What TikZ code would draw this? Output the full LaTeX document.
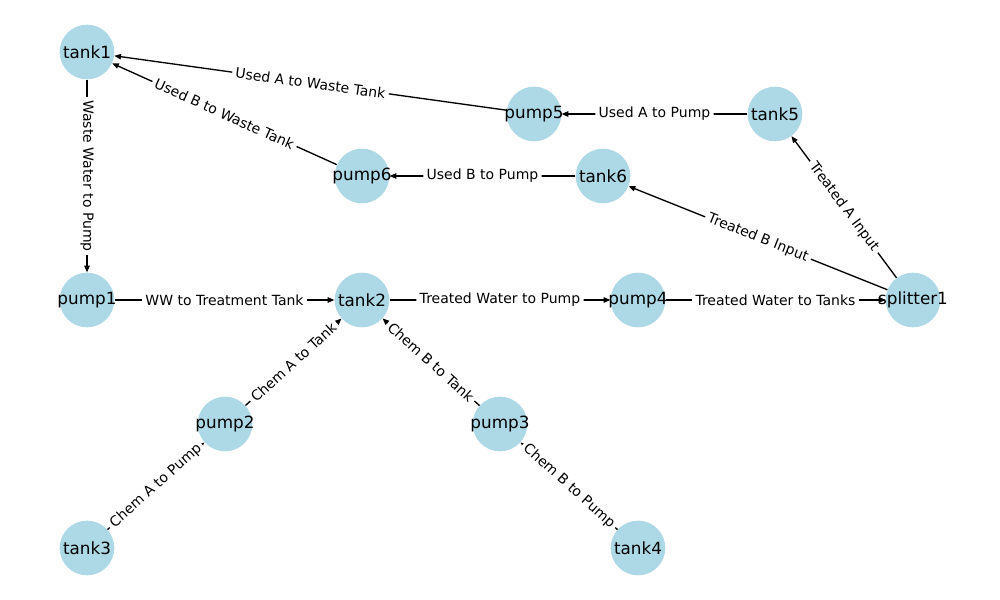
\documentclass[tikz,border=0pt]{standalone}
\usepackage{fontspec}
\setmainfont{DejaVu Sans}
\usetikzlibrary{arrows.meta}
\definecolor{lightblue}{HTML}{ADD8E6}
\begin{document}
\begin{tikzpicture}[x=0.75pt,y=-0.75pt,
  nd/.style={circle,fill=lightblue,minimum size=41pt,inner sep=0pt,
    label={[font=\fontsize{12.6}{14}\selectfont,inner sep=0pt]center:#1}},
  ed/.style={-{Triangle[length=5pt,width=4pt]},line width=1pt,black},
  lb/.style={midway,sloped,fill=white,font=\fontsize{10.5}{12}\selectfont,inner sep=2.5pt,rounded corners=3pt}]
\useasboundingbox (0,0) rectangle (1000,600);
\node[nd=tank1] (tank1) at (87,52) {};
\node[nd=pump5] (pump5) at (534,114) {};
\node[nd=tank5] (tank5) at (775,114) {};
\node[nd=pump6] (pump6) at (362,176) {};
\node[nd=tank6] (tank6) at (603,176) {};
\node[nd=pump1] (pump1) at (87,300) {};
\node[nd=tank2] (tank2) at (362,300) {};
\node[nd=pump4] (pump4) at (638,300) {};
\node[nd=splitter1] (splitter1) at (913,300) {};
\node[nd=pump2] (pump2) at (225,424) {};
\node[nd=pump3] (pump3) at (500,424) {};
\node[nd=tank3] (tank3) at (87,548) {};
\node[nd=tank4] (tank4) at (638,548) {};

\draw[ed] (pump5) -- (tank1) node[lb] {Used A to Waste Tank};
\draw[ed] (pump6) -- (tank1) node[lb] {Used B to Waste Tank};
\draw[ed] (tank1) -- (pump1) node[lb] {Waste Water to Pump};
\draw[ed] (tank5) -- (pump5) node[lb] {Used A to Pump};
\draw[ed] (tank6) -- (pump6) node[lb] {Used B to Pump};
\draw[ed] (splitter1) -- (tank5) node[lb] {Treated A Input};
\draw[ed] (splitter1) -- (tank6) node[lb] {Treated B Input};
\draw[ed] (pump1) -- (tank2) node[lb] {WW to Treatment Tank};
\draw[ed] (tank2) -- (pump4) node[lb] {Treated Water to Pump};
\draw[ed] (pump4) -- (splitter1) node[lb] {Treated Water to Tanks};
\draw[ed] (pump2) -- (tank2) node[lb] {Chem A to Tank};
\draw[ed] (pump3) -- (tank2) node[lb] {Chem B to Tank};
\draw[ed] (tank3) -- (pump2) node[lb] {Chem A to Pump};
\draw[ed] (tank4) -- (pump3) node[lb] {Chem B to Pump};
\end{tikzpicture}
\end{document}
